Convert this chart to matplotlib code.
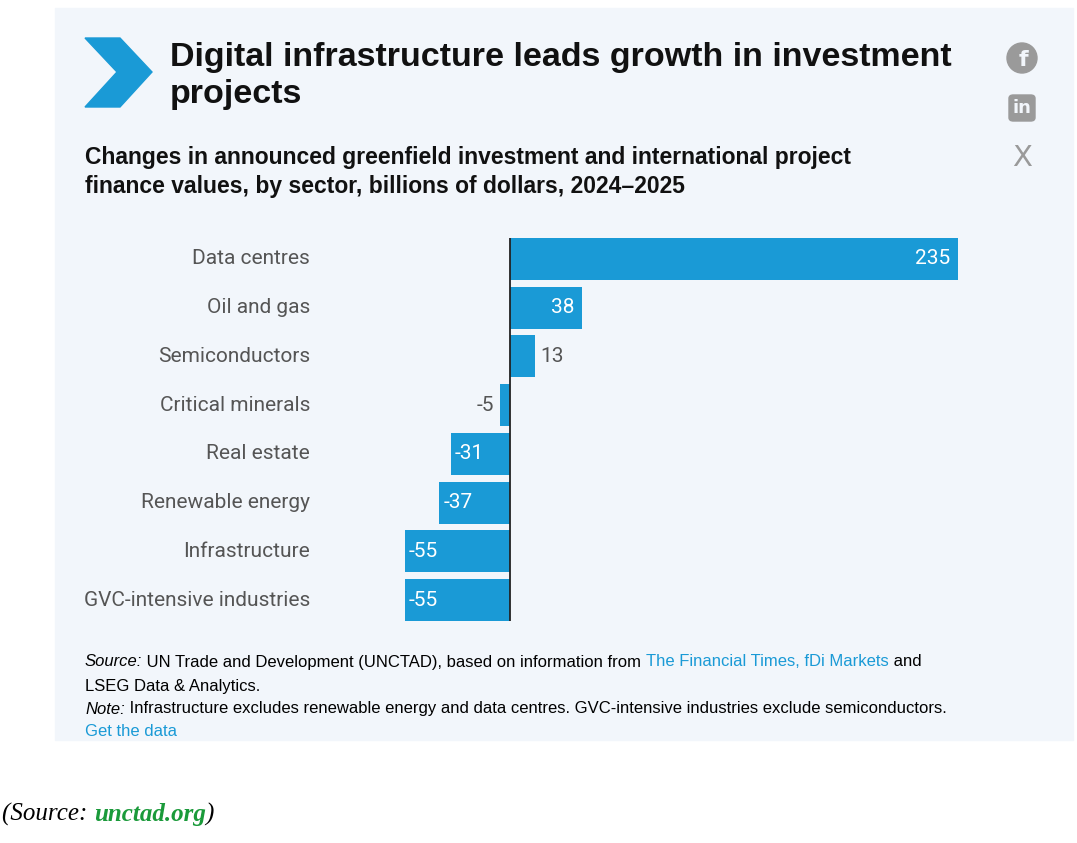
import matplotlib.pyplot as plt
from matplotlib.patches import Rectangle, Polygon, Ellipse, FancyBboxPatch

sectors = ["Data centres", "Oil and gas", "Semiconductors", "Critical minerals",
           "Real estate", "Renewable energy", "Infrastructure", "GVC-intensive industries"]
values = [235, 38, 13, -5, -31, -37, -55, -55]

W, H = 1077, 843
BLUE = "#1a9ad6"
fig = plt.figure(figsize=(W / 100, H / 100), dpi=100)
fig.patch.set_facecolor("white")
font = "Roboto"

def fx(x): return x / W
def fy(y): return 1 - y / H

# panel background
fig.patches.append(Rectangle((fx(55), fy(740)), fx(1073 - 55), (740 - 8) / H,
                             transform=fig.transFigure, color="#f2f6fb", zorder=-5))
# chevron
pts = [(85, 38), (120, 38), (152, 72), (120, 107), (85, 107), (117, 72)]
fig.patches.append(Polygon([(fx(x), fy(y)) for x, y in pts], closed=True,
                           transform=fig.transFigure, color=BLUE))
# share icons
fig.patches.append(Ellipse((fx(1022), fy(58)), 30 / W, 30 / H, transform=fig.transFigure, color="#9a9a9a"))
fig.text(fx(1023), fy(60), "f", color="#f2f6fb", fontsize=16, fontweight="bold",
         ha="center", va="center", family="DejaVu Sans")
fig.patches.append(FancyBboxPatch((fx(1009), fy(121)), 26 / W, 26 / H, boxstyle="round,pad=0,rounding_size=0.004",
                                  transform=fig.transFigure, color="#9a9a9a"))
fig.text(fx(1022), fy(108), "in", color="#f2f6fb", fontsize=13, fontweight="bold",
         ha="center", va="center", family="DejaVu Sans")
fig.text(fx(1022), fy(158), "X", color="#9a9a9a", fontsize=21, ha="center", va="center", family="DejaVu Sans")

fig.text(fx(170), fy(76), "Digital infrastructure leads growth in investment\nprojects",
         fontsize=24.5, fontweight="bold", family="Liberation Sans", va="center",
         linespacing=1.25, color="#111111")
fig.text(fx(85), fy(172), "Changes in announced greenfield investment and international project\n"
         "finance values, by sector, billions of dollars, 2024\u20132025",
         fontsize=16.5, fontweight="bold", family="Liberation Sans", va="center",
         linespacing=1.35, color="#111111")

ax = fig.add_axes([fx(405), fy(621), fx(958 - 405), (621 - 238) / H])
ax.set_facecolor("none")
y = list(range(len(sectors)))
ax.barh(y, values, height=0.86, color=BLUE)
ax.set_xlim(-55, 235)
ax.set_ylim(7.43, -0.43)
ax.axvline(0, color="#222222", lw=1.3)
for s in ax.spines.values():
    s.set_visible(False)
ax.set_xticks([])
ax.set_yticks([])
for i, (name, v) in enumerate(zip(sectors, values)):
    ax.text(-55 - (405 - 310) / (448 / 235), i, name, ha="right", va="center",
            fontsize=15, color="#555555", family=font)
    if abs(v) >= 30:
        xpos = v - 4 if v > 0 else v + 2
        ax.text(xpos, i, str(v), ha="right" if v > 0 else "left", va="center",
                fontsize=15, color="white", family=font)
    else:
        xpos = v + 3 if v > 0 else v - 3
        ax.text(xpos, i, str(v), ha="left" if v > 0 else "right", va="center",
                fontsize=15, color="#555555", family=font)

fs = 12
kw = dict(va="center", fontsize=fs, family="Liberation Sans", annotation_clip=False)
t = fig.text(fx(85), fy(662), "Source:", fontsize=fs, style="italic", family="Liberation Sans", va="center")
t = ax.annotate(" UN Trade and Development (UNCTAD), based on information from ", xy=(1, 0.5),
                xycoords=t, **kw)
t = ax.annotate("The Financial Times, fDi Markets", xy=(1, 0.5), xycoords=t, color=BLUE, **kw)
ax.annotate(" and", xy=(1, 0.5), xycoords=t, **kw)
fig.text(fx(85), fy(686), "LSEG Data & Analytics.", fontsize=fs, family="Liberation Sans", va="center")
t = fig.text(fx(85), fy(709), "Note:", fontsize=fs, style="italic", family="Liberation Sans", va="center")
ax.annotate(" Infrastructure excludes renewable energy and data centres. GVC-intensive industries exclude semiconductors.",
            xy=(1, 0.5), xycoords=t, **kw)
fig.text(fx(85), fy(731), "Get the data", fontsize=fs, family="Liberation Sans", va="center", color=BLUE)

t = fig.text(fx(2), fy(814), "(Source: ", fontsize=18, style="italic", family="Liberation Serif", va="center")
t = ax.annotate("unctad.org", xy=(1, 0.5), xycoords=t, va="center", fontsize=18, style="italic",
                fontweight="bold", family="Liberation Serif", color="#1a9a3a", annotation_clip=False)
ax.annotate(")", xy=(1, 0.5), xycoords=t, va="center", fontsize=18, style="italic",
            family="Liberation Serif", annotation_clip=False)

fig.savefig("out.png", dpi=100)
